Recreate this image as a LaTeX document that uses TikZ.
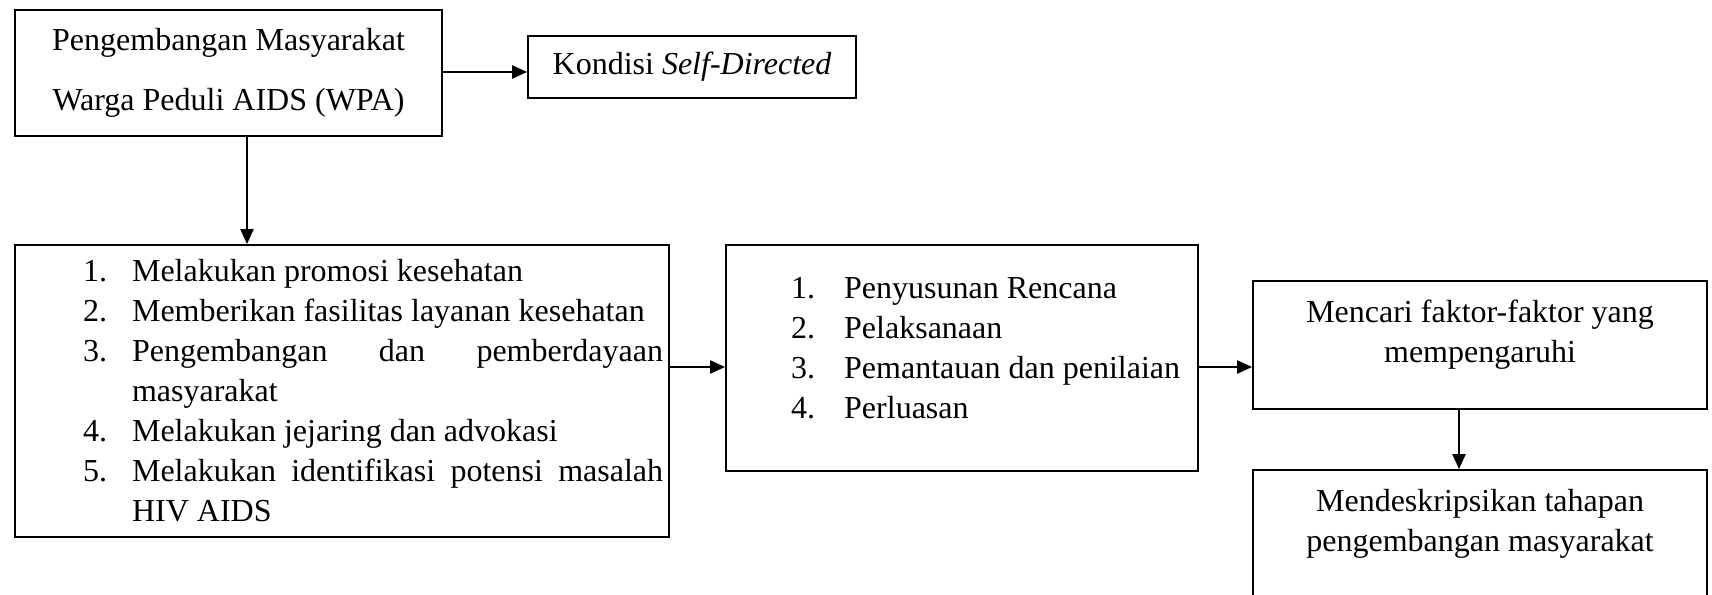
\documentclass[tikz,border=0pt]{standalone}
\usepackage{fontspec}
\setmainfont{Liberation Serif}
\usetikzlibrary{arrows.meta}
\newcommand{\lstitem}[3]{\hangindent=#1\hangafter=1\noindent\makebox[#1][l]{#2}#3\par}
\newcommand{\lstsetup}{\fontsize{12}{15}\selectfont\parindent=0pt\tolerance=10000\hyphenpenalty=10000\exhyphenpenalty=10000\emergencystretch=3em}
\begin{document}
\begin{tikzpicture}[x=0.375pt,y=-0.375pt,
  font=\fontsize{12}{15}\selectfont,
  box/.style={draw, line width=0.8pt, inner sep=0pt, anchor=north west},
  conn/.style={line width=0.45pt, -{Triangle[length=5.6pt,width=5pt]}}]
\useasboundingbox (0,0) rectangle (1712,595);
\fill[white] (0,0) rectangle (1712,595);
\clip (0,0) rectangle (1712,595);

\node[box, minimum width=160.125pt, minimum height=47.25pt] (wpa) at (14,9)
  {\parbox{160pt}{\centering\fontsize{12}{22.5}\selectfont Pengembangan Masyarakat\\Warga Peduli AIDS (WPA)\par}};

\node[box, minimum width=123pt, minimum height=23.25pt] (kon) at (527,35)
  {Kondisi \textit{Self-Directed}};

\node[box, minimum width=245.25pt, minimum height=109.5pt] (act) at (14,244)
  {\hspace*{25.5pt}\parbox{217.5pt}{\lstsetup
   \lstitem{18.375pt}{1.}{Melakukan promosi kesehatan}
   \lstitem{18.375pt}{2.}{Memberikan fasilitas layanan kesehatan}
   \lstitem{18.375pt}{3.}{Pengembangan dan pemberdayaan masyarakat}
   \lstitem{18.375pt}{4.}{Melakukan jejaring dan advokasi}
   \lstitem{18.375pt}{5.}{Melakukan identifikasi potensi masalah HIV AIDS}}\hspace*{2.25pt}};

\node[box, minimum width=177pt, minimum height=84.75pt] (stg) at (725,244)
  {\hspace*{24.4pt}\parbox{152.6pt}{\lstsetup
   \lstitem{19.9pt}{1.}{Penyusunan Rencana}
   \lstitem{19.9pt}{2.}{Pelaksanaan}
   \lstitem{19.9pt}{3.}{Pemantauan dan penilaian}
   \lstitem{19.9pt}{4.}{Perluasan}
   \vspace*{7.5pt}}};

\node[box, minimum width=170.25pt, minimum height=48pt] (fac) at (1252,280)
  {\parbox{170pt}{\centering\fontsize{12}{15}\selectfont Mencari faktor-faktor yang\\mempengaruhi\par\vspace*{7.5pt}}};

\node[box, minimum width=170.25pt, minimum height=64.125pt] (desc) at (1252,469)
  {\parbox{170pt}{\centering\fontsize{12}{15}\selectfont Mendeskripsikan tahapan\\pengembangan masyarakat\par\vspace*{23.6pt}}};

\coordinate (yk) at (0,72);
\coordinate (xa) at (247,0);
\coordinate (ym) at (0,367);
\coordinate (xb) at (1459,0);

\draw[conn] (wpa.east |- yk) -- (kon.west |- yk);
\draw[conn] (wpa.south -| xa) -- (act.north -| xa);
\draw[conn] (act.east |- ym) -- (stg.west |- ym);
\draw[conn] (stg.east |- ym) -- (fac.west |- ym);
\draw[conn] (fac.south -| xb) -- (desc.north -| xb);
\end{tikzpicture}
\end{document}
